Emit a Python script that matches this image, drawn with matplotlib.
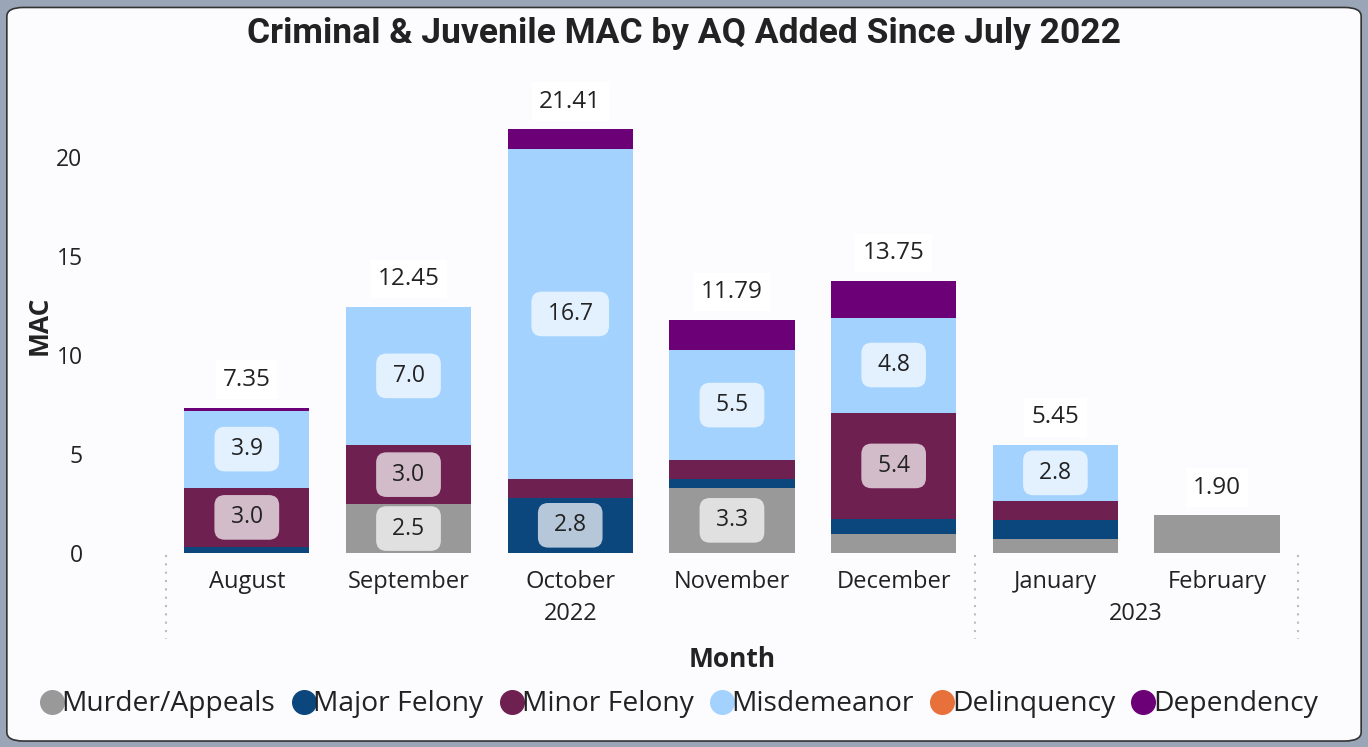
import matplotlib
matplotlib.use("Agg")
import matplotlib.pyplot as plt
from matplotlib.patches import FancyBboxPatch
from matplotlib.lines import Line2D
import numpy as np

months = ["August", "September", "October", "November", "December", "January", "February"]
years = [("2022", 0, 4), ("2023", 5, 6)]
series = ["Murder/Appeals", "Major Felony", "Minor Felony", "Misdemeanor", "Delinquency", "Dependency"]
colors = ["#999999", "#0B467D", "#6E2050", "#A3D2FF", "#E8703A", "#6B0077"]

murder = [0.0, 2.47, 0.0, 3.3, 0.95, 0.7, 1.90]
major = [0.3, 0.0, 2.8, 0.45, 0.75, 0.95, 0.0]
minor = [3.0, 2.98, 0.93, 0.95, 5.4, 1.0, 0.0]
misd = [3.9, 7.0, 16.7, 5.55, 4.8, 2.8, 0.0]
delinq = [0.0, 0.0, 0.0, 0.0, 0.0, 0.0, 0.0]
depend = [0.15, 0.0, 0.98, 1.54, 1.85, 0.0, 0.0]
values = [murder, major, minor, misd, delinq, depend]

FONT = ["Open Sans", "DejaVu Sans"]
plt.rcParams["font.family"] = FONT
TXT = "#222222"

fig = plt.figure(figsize=(13.68, 7.47), dpi=100)
fig.patch.set_facecolor("#9AA6B8")
panel = FancyBboxPatch((0.005, 0.008), 0.99, 0.982, boxstyle="round,pad=0,rounding_size=0.012",
                       transform=fig.transFigure, facecolor="#FCFCFE", edgecolor="#333333", lw=1.2,
                       zorder=-10)
fig.patches.append(panel)

ax = fig.add_axes([0.1213, 0.2597, 0.8275, 0.6093])
ax.set_facecolor("none")
x = np.arange(len(months))
bottom = np.zeros(len(months))
for name, vals, c in zip(series, values, colors):
    v = np.array(vals)
    ax.bar(x, v, 0.775, bottom=bottom, color=c, label=name)
    for i in range(len(months)):
        if v[i] >= 2.4 and not (name == "Murder/Appeals" and i == 6):
            ax.text(x[i], bottom[i] + v[i] / 2, f" {v[i]:.1f} ", ha="center", va="center",
                    fontsize=16.5, color=TXT,
                    bbox=dict(boxstyle="round,pad=0.45,rounding_size=0.45", fc="white", ec="none", alpha=0.7))
    bottom += v

for i, tot in enumerate(bottom):
    ax.annotate(f"{tot:.2f}", (x[i], tot), xytext=(0, 20), textcoords="offset points",
                ha="center", va="center", fontsize=17.5, color=TXT,
                bbox=dict(boxstyle="square,pad=0.3", fc="white", ec="none"))

ax.set_xlim(-0.5, len(months) - 0.5)
ax.set_ylim(0, 23)
ax.set_yticks([0, 5, 10, 15, 20])
ax.tick_params(axis="y", length=0, labelsize=16.5, labelcolor=TXT, pad=60)
ax.set_xticks(x)
ax.set_xticklabels(months)
ax.tick_params(axis="x", length=0, labelsize=17, labelcolor=TXT, pad=12)
for s in ax.spines.values():
    s.set_visible(False)
ax.set_ylabel("MAC", fontsize=19, fontweight="bold", color=TXT, labelpad=3)

# year level of the hierarchical axis
for label, a, b in years:
    ax.text((a + b) / 2, -0.135, label, transform=ax.get_xaxis_transform(),
            ha="center", va="center", fontsize=17, color=TXT)
for xs in [-0.5, 4.5, 6.5]:
    ax.add_line(Line2D([xs, xs], [-0.005, -0.19], transform=ax.get_xaxis_transform(),
                       color="#BBBBBB", lw=1.5, ls=(0, (1, 3)), clip_on=False))
ax.text(3, -0.235, "Month", transform=ax.get_xaxis_transform(), ha="center", va="center",
        fontsize=19, fontweight="bold", color=TXT)

fig.text(0.5, 0.955, "Criminal & Juvenile MAC by AQ Added Since July 2022", ha="center", va="center",
         fontsize=25.5, fontweight="bold", color=TXT, family=["Roboto", "DejaVu Sans"])

handles = [Line2D([], [], marker="o", ls="none", markersize=17, color=c) for c in colors]
fig.legend(handles, series, loc="center", bbox_to_anchor=(0.494, 0.057), ncol=6, frameon=False,
           fontsize=20.3, handletextpad=-0.3, columnspacing=0.35, handlelength=1.3, labelcolor=TXT)

fig.savefig("out.png", dpi=100, facecolor=fig.get_facecolor())
